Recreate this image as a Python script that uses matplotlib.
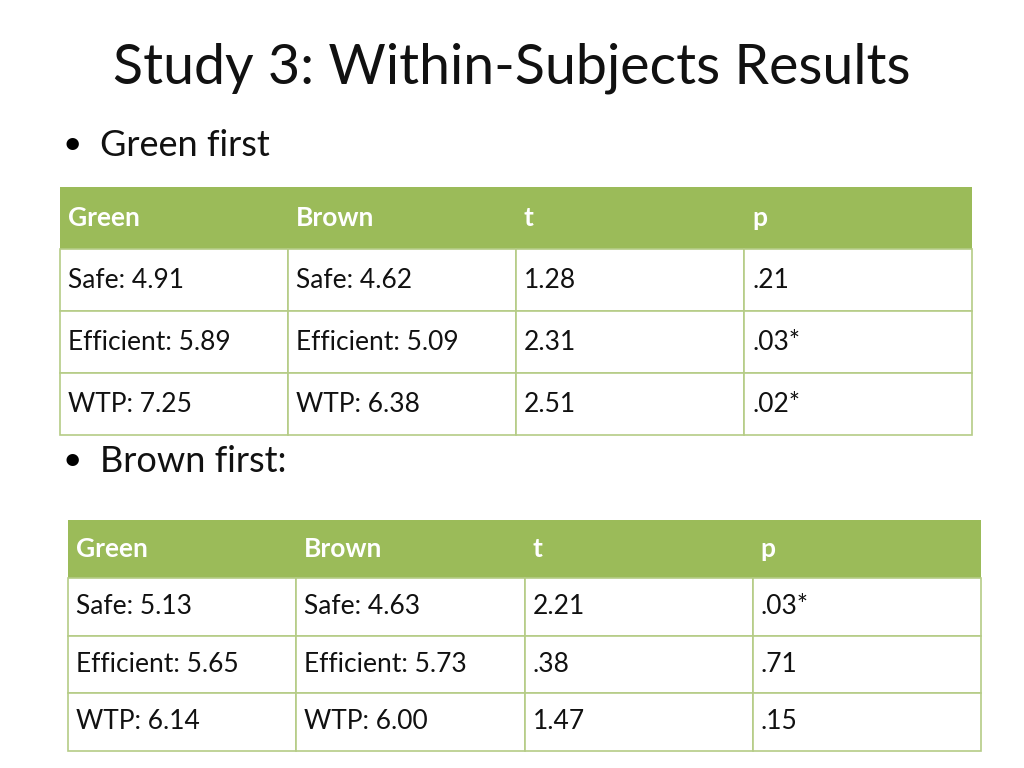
import matplotlib
matplotlib.use("Agg")
import matplotlib.pyplot as plt
from matplotlib.patches import Rectangle

title = "Study 3: Within-Subjects Results"
headers = ["Green", "Brown", "t", "p"]
green_first_rows = [["Safe: 4.91", "Safe: 4.62", "1.28", ".21"],
                    ["Efficient: 5.89", "Efficient: 5.09", "2.31", ".03*"],
                    ["WTP: 7.25", "WTP: 6.38", "2.51", ".02*"]]
brown_first_rows = [["Safe: 5.13", "Safe: 4.63", "2.21", ".03*"],
                    ["Efficient: 5.65", "Efficient: 5.73", ".38", ".71"],
                    ["WTP: 6.14", "WTP: 6.00", "1.47", ".15"]]
bullets = ["Green first", "Brown first:"]

FONT = "Lato"
HEAD = "#9BBB59"
LINE = "#B5CC86"

fig = plt.figure(figsize=(10.24, 7.68), dpi=100)
ax = fig.add_axes([0, 0, 1, 1])
ax.set_xlim(0, 1024); ax.set_ylim(768, 0); ax.axis("off")

ax.text(512, 68, title, ha="center", va="center", fontsize=40, family=FONT, color="#111111")

def bullet(y, s):
    ax.text(62, y, "•", ha="left", va="center", fontsize=24, family=FONT)
    ax.text(100, y, s, ha="left", va="center", fontsize=26, family=FONT, color="#111111")

def table(x0, w, y0, hh, rh, rows):
    n = len(headers)
    ax.add_patch(Rectangle((x0, y0), w * n, hh, color=HEAD, lw=0))
    for j, h in enumerate(headers):
        ax.text(x0 + j * w + 8, y0 + hh / 2, h, ha="left", va="center", fontsize=19,
                family=FONT, weight="bold", color="white")
    for i, r in enumerate(rows):
        y = y0 + hh + i * rh
        for j, c in enumerate(r):
            ax.add_patch(Rectangle((x0 + j * w, y), w, rh, facecolor="white", edgecolor=LINE, lw=1.2))
            ax.text(x0 + j * w + 8, y + rh / 2, c, ha="left", va="center", fontsize=19,
                    family=FONT, color="#111111")

bullet(145, bullets[0])
table(60, 228, 187, 62, 62, green_first_rows)
bullet(461, bullets[1])
table(68, 228.25, 520, 58, 57.5, brown_first_rows)

fig.savefig("out.png", dpi=100)
